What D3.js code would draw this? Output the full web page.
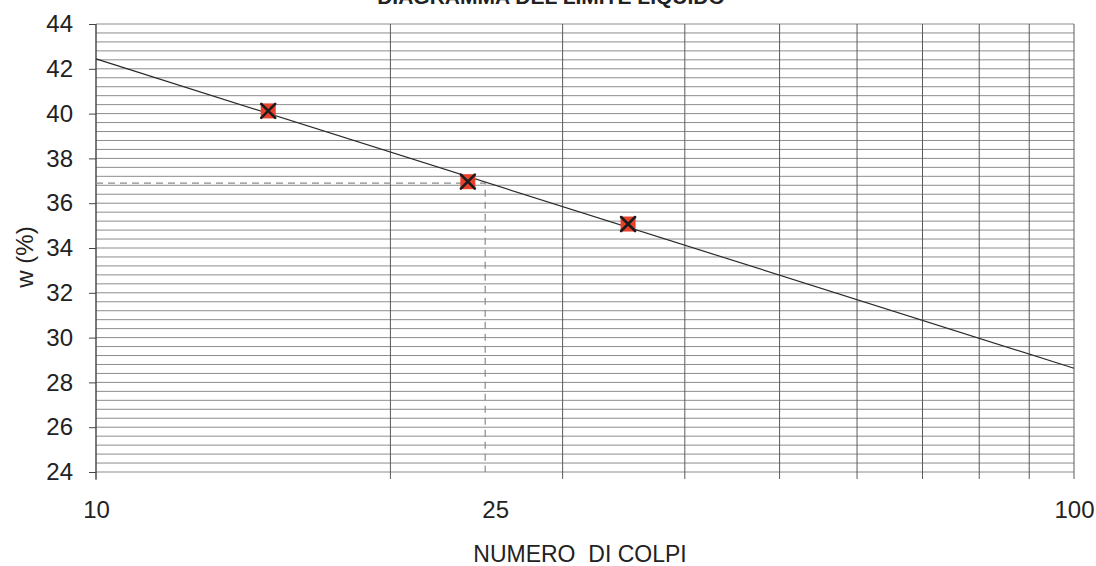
<!DOCTYPE html>
<html>
<head>
<meta charset="utf-8">
<script src="https://cdn.jsdelivr.net/npm/d3@7/dist/d3.min.js"></script>
<style>
  html, body { margin: 0; padding: 0; background: #fff; }
  svg { display: block; font-family: "Liberation Sans", Arial, sans-serif; }
</style>
</head>
<body>
<div id="chart"></div>
<script>
// Punti di prova (numero di colpi, contenuto d'acqua %)
const colpi = [15, 24, 35]
const umidita = [40.12, 36.96, 35.07]

// Retta di tendenza (log) agli estremi dell'asse
const trendColpi = [10, 100]
const trendW = [42.44, 28.63]

// Limite liquido letto a 25 colpi
const llColpi = 25
const llW = 36.9

// Assi
const xTickLabels = [10, 25, 100]
const xGrid = [10, 20, 30, 40, 50, 60, 70, 80, 90, 100]
const yMajor = [24, 26, 28, 30, 32, 34, 36, 38, 40, 42, 44]
const yMinorStep = 0.4

const W = 1096, H = 566
const margin = { left: 96, right: 22, top: 24, bottom: 94 }

const svg = d3.select("#chart").append("svg")
  .attr("width", W)
  .attr("height", H)

const x = d3.scaleLog().domain([10, 100]).range([margin.left, W - margin.right])
const y = d3.scaleLinear().domain([24, 44]).range([H - margin.bottom, margin.top])

// Title (cut off at the top in the scan)
svg.append("text")
  .attr("x", 551)
  .attr("y", 4)
  .attr("text-anchor", "middle")
  .attr("font-size", "21px")
  .attr("font-weight", "bold")
  .attr("fill", "#222")
  .text("DIAGRAMMA DEL LIMITE LIQUIDO")

// horizontal grid every 0.4
const yMinor = d3.range(24, 44.0001, yMinorStep)
svg.append("g")
  .selectAll("line")
  .data(yMinor)
  .join("line")
  .attr("x1", x(10))
  .attr("x2", x(100))
  .attr("y1", d => y(d))
  .attr("y2", d => y(d))
  .attr("stroke", "#8c8c8c")
  .attr("stroke-width", 1)

// vertical grid at decades
svg.append("g")
  .selectAll("line")
  .data(xGrid)
  .join("line")
  .attr("x1", d => x(d))
  .attr("x2", d => x(d))
  .attr("y1", y(44))
  .attr("y2", y(24) + 7)
  .attr("stroke", "#5a5a5a")
  .attr("stroke-width", 1)

// y axis
const yAxis = d3.axisLeft(y).tickValues(yMajor).tickSize(7).tickPadding(16)
const gy = svg.append("g")
  .attr("transform", `translate(${x(10)},0)`)
  .call(yAxis)
gy.select(".domain").attr("stroke", "#444").attr("d", `M-0,${y(44)}V${y(24) + 8}`)
gy.selectAll(".tick line").attr("stroke", "#444")
gy.selectAll(".tick text")
  .attr("font-size", "24px")
  .attr("fill", "#222")
  .attr("font-family", "Liberation Sans, Arial, sans-serif")

// x axis (labels only)
const xAxis = d3.axisBottom(x).tickValues(xTickLabels).tickSize(0).tickPadding(29)
  .tickFormat(d3.format("d"))
const gx = svg.append("g")
  .attr("transform", `translate(0,${y(24)})`)
  .call(xAxis)
gx.select(".domain").remove()
gx.selectAll(".tick text")
  .attr("font-size", "24px")
  .attr("fill", "#222")
  .attr("font-family", "Liberation Sans, Arial, sans-serif")
  .attr("dx", d => d === 25 ? 10 : 0)

// axis titles
svg.append("text")
  .attr("x", 580)
  .attr("y", 562)
  .attr("text-anchor", "middle")
  .attr("font-size", "23px")
  .attr("fill", "#222")
  .attr("xml:space", "preserve")
  .style("white-space", "pre")
  .text("NUMERO  DI COLPI")

svg.append("text")
  .attr("transform", "translate(33,257) rotate(-90)")
  .attr("text-anchor", "middle")
  .attr("font-size", "24px")
  .attr("fill", "#222")
  .text("w (%)")

// dashed reading lines for LL
svg.append("path")
  .attr("d", `M${x(10)},${y(llW)}H${x(llColpi)}V${y(24)}`)
  .attr("fill", "none")
  .attr("stroke", "#8a8a8a")
  .attr("stroke-width", 1.2)
  .attr("stroke-dasharray", "7,5")

// trend line
const line = d3.line().x(d => x(d[0])).y(d => y(d[1]))
svg.append("path")
  .datum(d3.zip(trendColpi, trendW))
  .attr("d", line)
  .attr("fill", "none")
  .attr("stroke", "#2a2a2a")
  .attr("stroke-width", 1.2)

// markers: red square with black cross
const pts = svg.append("g")
  .selectAll("g")
  .data(d3.zip(colpi, umidita))
  .join("g")
  .attr("transform", d => `translate(${x(d[0])},${y(d[1])})`)

pts.append("rect")
  .attr("x", -7.5).attr("y", -7.5)
  .attr("width", 15).attr("height", 15)
  .attr("fill", "#e8412c")

pts.append("path")
  .attr("d", "M-7,-7L7,7M7,-7L-7,7")
  .attr("stroke", "#1c1c1c")
  .attr("stroke-width", 2.6)
  .attr("stroke-linecap", "round")
</script>
</body>
</html>
